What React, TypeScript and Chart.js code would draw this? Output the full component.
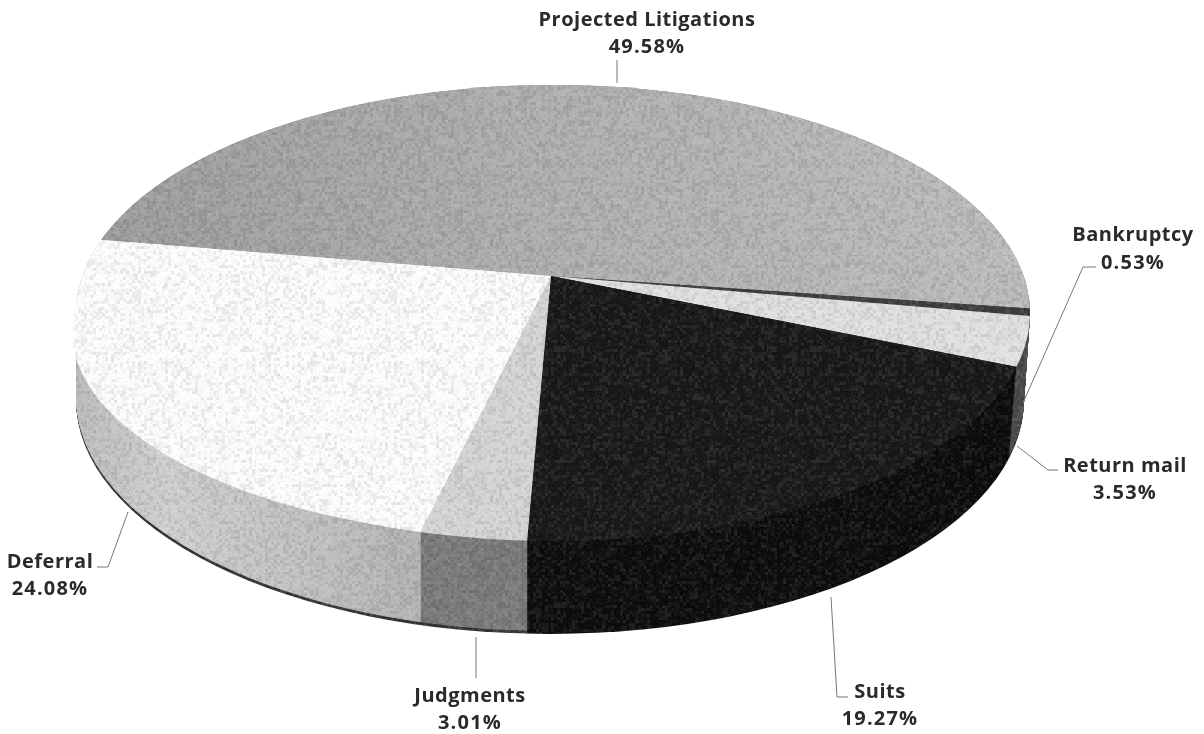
import React, { useEffect, useRef } from "react";
import { Chart, registerables } from "chart.js";

Chart.register(...registerables);

const categories = ["Projected Litigations", "Bankruptcy", "Return mail", "Suits", "Judgments", "Deferral"];
const shares = [49.58, 0.53, 3.53, 19.27, 3.01, 24.08];
const topColors = ["#b0b0b0", "#3c3c3c", "#e2e2e2", "#161616", "#d6d6d6", "#ffffff"];
const sideColors = ["#808080", "#3a3a3a", "#4a4a4a", "#0b0b0b", "#7a7a7a", "#c6c6c6"];

const APEX = { x: 551, y: 276, squash: 0.46 };
const TOP_RIM = { x: 553, y: 313, rx: 477, ry: 228 };
const BEVEL_RIM = { x: 550, y: 331, rx: 478, ry: 208 };
const BOTTOM_RIM = { x: 550, y: 400, rx: 474, ry: 234 };

const LABELS = [
  { x: 647, y: 20, py: 47, line: [[617, 60], [617, 83]] },
  { x: 1133, y: 235, py: 263, line: [[1096, 267], [1083, 267], [1023, 403]] },
  { x: 1125, y: 466, py: 493, line: [[1017, 446], [1048, 470], [1058, 470]] },
  { x: 880, y: 692, py: 719, line: [[831, 597], [837, 697], [848, 697]] },
  { x: 470, y: 696, py: 723, line: [[476, 637], [476, 678]] },
  { x: 50, y: 562, py: 589, line: [[128, 512], [108, 567], [97, 567]] },
];

function hash(x: number, y: number, s: number) {
  const v = Math.sin(x * 127.1 + y * 311.7 + s * 74.7) * 43758.5453;
  return v - Math.floor(v);
}

function grainTile(cell: number, alpha: number, seed: number) {
  const size = 256;
  const c = document.createElement("canvas");
  c.width = c.height = size;
  const g = c.getContext("2d")!;
  for (let y = 0; y < size; y += cell) {
    for (let x = 0; x < size; x += cell) {
      const h = hash(x, y, seed);
      const tone = h > 0.5 ? 255 : 0;
      g.fillStyle = `rgba(${tone},${tone},${tone},${alpha * Math.abs(h - 0.5) * 2})`;
      g.fillRect(x, y, cell, cell);
    }
  }
  return c;
}

const pie3d = {
  id: "pie3d",
  beforeDatasetsDraw(chart: any) {
    const ctx: CanvasRenderingContext2D = chart.ctx;
    const arcs = chart.getDatasetMeta(0).data;
    const ax = arcs[0].x;
    const ay = arcs[0].y;
    const hg = (x0: number, x1: number, stops: [number, string][]) => {
      const g = ctx.createLinearGradient(ax + x0 - APEX.x, 0, ax + x1 - APEX.x, 0);
      stops.forEach(([o, c]) => g.addColorStop(o, c));
      return g;
    };
    const paint = (colors: any[], rim: any, dy: number) => {
      ctx.save();
      ctx.beginPath();
      ctx.ellipse(rim.x, rim.y, rim.rx, rim.ry, 0, 0, Math.PI * 2);
      ctx.clip();
      ctx.translate(APEX.x, APEX.y + dy);
      ctx.scale(1, APEX.squash);
      ctx.translate(-ax, -ay);
      arcs.forEach((arc: any, i: number) => {
        if (!colors[i]) return;
        const orig = arc.options;
        arc.options = { ...orig, backgroundColor: colors[i], borderWidth: 0 };
        arc.draw(ctx);
        arc.options = orig;
      });
      ctx.restore();
    };
    const deferralSide = hg(75, 430, [[0, "#bcbcbc"], [0.25, "#d0d0d0"], [0.6, "#c4c4c4"], [1, "#b2b2b2"]]);
    const sides = sideColors.map((c, i) => (i === 5 ? deferralSide : c));
    const edge = ["#333", "#333", "#333", "#0b0b0b", "#333", "#333"];
    const depth = BOTTOM_RIM.y + BOTTOM_RIM.ry - (TOP_RIM.y + TOP_RIM.ry);
    for (let i = 0; i <= depth; i++) {
      const t = 1 - i / depth;
      const rim = {
        x: TOP_RIM.x + (BOTTOM_RIM.x - TOP_RIM.x) * t,
        y: TOP_RIM.y + (BOTTOM_RIM.y - TOP_RIM.y) * t,
        rx: TOP_RIM.rx + (BOTTOM_RIM.rx - TOP_RIM.rx) * t,
        ry: TOP_RIM.ry + (BOTTOM_RIM.ry - TOP_RIM.ry) * t,
      };
      paint(i < 3 ? edge : sides, rim, depth * t);
    }
    // pale rounded bevel that runs along the front of the white slice
    paint([null, null, null, null, null, "#ffffff"], BEVEL_RIM, 0);
    const projected = hg(100, 1030, [[0, "#9c9c9c"], [0.45, "#aeaeae"], [1, "#bdbdbd"]]);
    const tops = topColors.map((c, i) => (i === 0 ? projected : c));
    paint(tops, TOP_RIM, 0);

    ctx.save();
    ctx.globalCompositeOperation = "source-atop";
    ctx.fillStyle = ctx.createPattern(grainTile(1, 0.06, 1), "repeat")!;
    ctx.fillRect(0, 0, chart.width, chart.height);
    ctx.fillStyle = ctx.createPattern(grainTile(3, 0.09, 2), "repeat")!;
    ctx.fillRect(0, 0, chart.width, chart.height);
    ctx.restore();
    return false;
  },
  afterDraw(chart: any) {
    const ctx: any = chart.ctx;
    ctx.save();
    ctx.strokeStyle = "#777";
    ctx.lineWidth = 1;
    LABELS.forEach((l) => {
      ctx.beginPath();
      l.line.forEach(([x, y], i) => (i ? ctx.lineTo(x, y) : ctx.moveTo(x, y)));
      ctx.stroke();
    });
    ctx.fillStyle = "#2a2a2a";
    ctx.textAlign = "center";
    ctx.textBaseline = "middle";
    ctx.font = "700 20px 'Open Sans'";
    LABELS.forEach((l, i) => {
      ctx.letterSpacing = "0.5px";
      ctx.fillText(categories[i], l.x, l.y);
      ctx.letterSpacing = "1.2px";
      ctx.fillText(shares[i].toFixed(2) + "%", l.x, l.py);
    });
    ctx.restore();
  },
};

export default function App() {
  const ref = useRef<HTMLCanvasElement>(null);
  useEffect(() => {
    document.body.style.margin = "0";
    document.body.style.background = "#fff";
    const chart = new Chart(ref.current!, {
      type: "pie",
      data: {
        labels: categories,
        datasets: [{ data: shares, backgroundColor: topColors, borderWidth: 0, clip: false } as any],
      },
      options: {
        responsive: false,
        animation: false,
        rotation: 279.9,
        radius: 800,
        layout: { padding: 0 },
        plugins: { legend: { display: false }, tooltip: { enabled: false } },
      } as any,
      plugins: [pie3d as any],
    });
    return () => chart.destroy();
  }, []);
  return <canvas ref={ref} width={1204} height={734} style={{ display: "block" }} />;
}
